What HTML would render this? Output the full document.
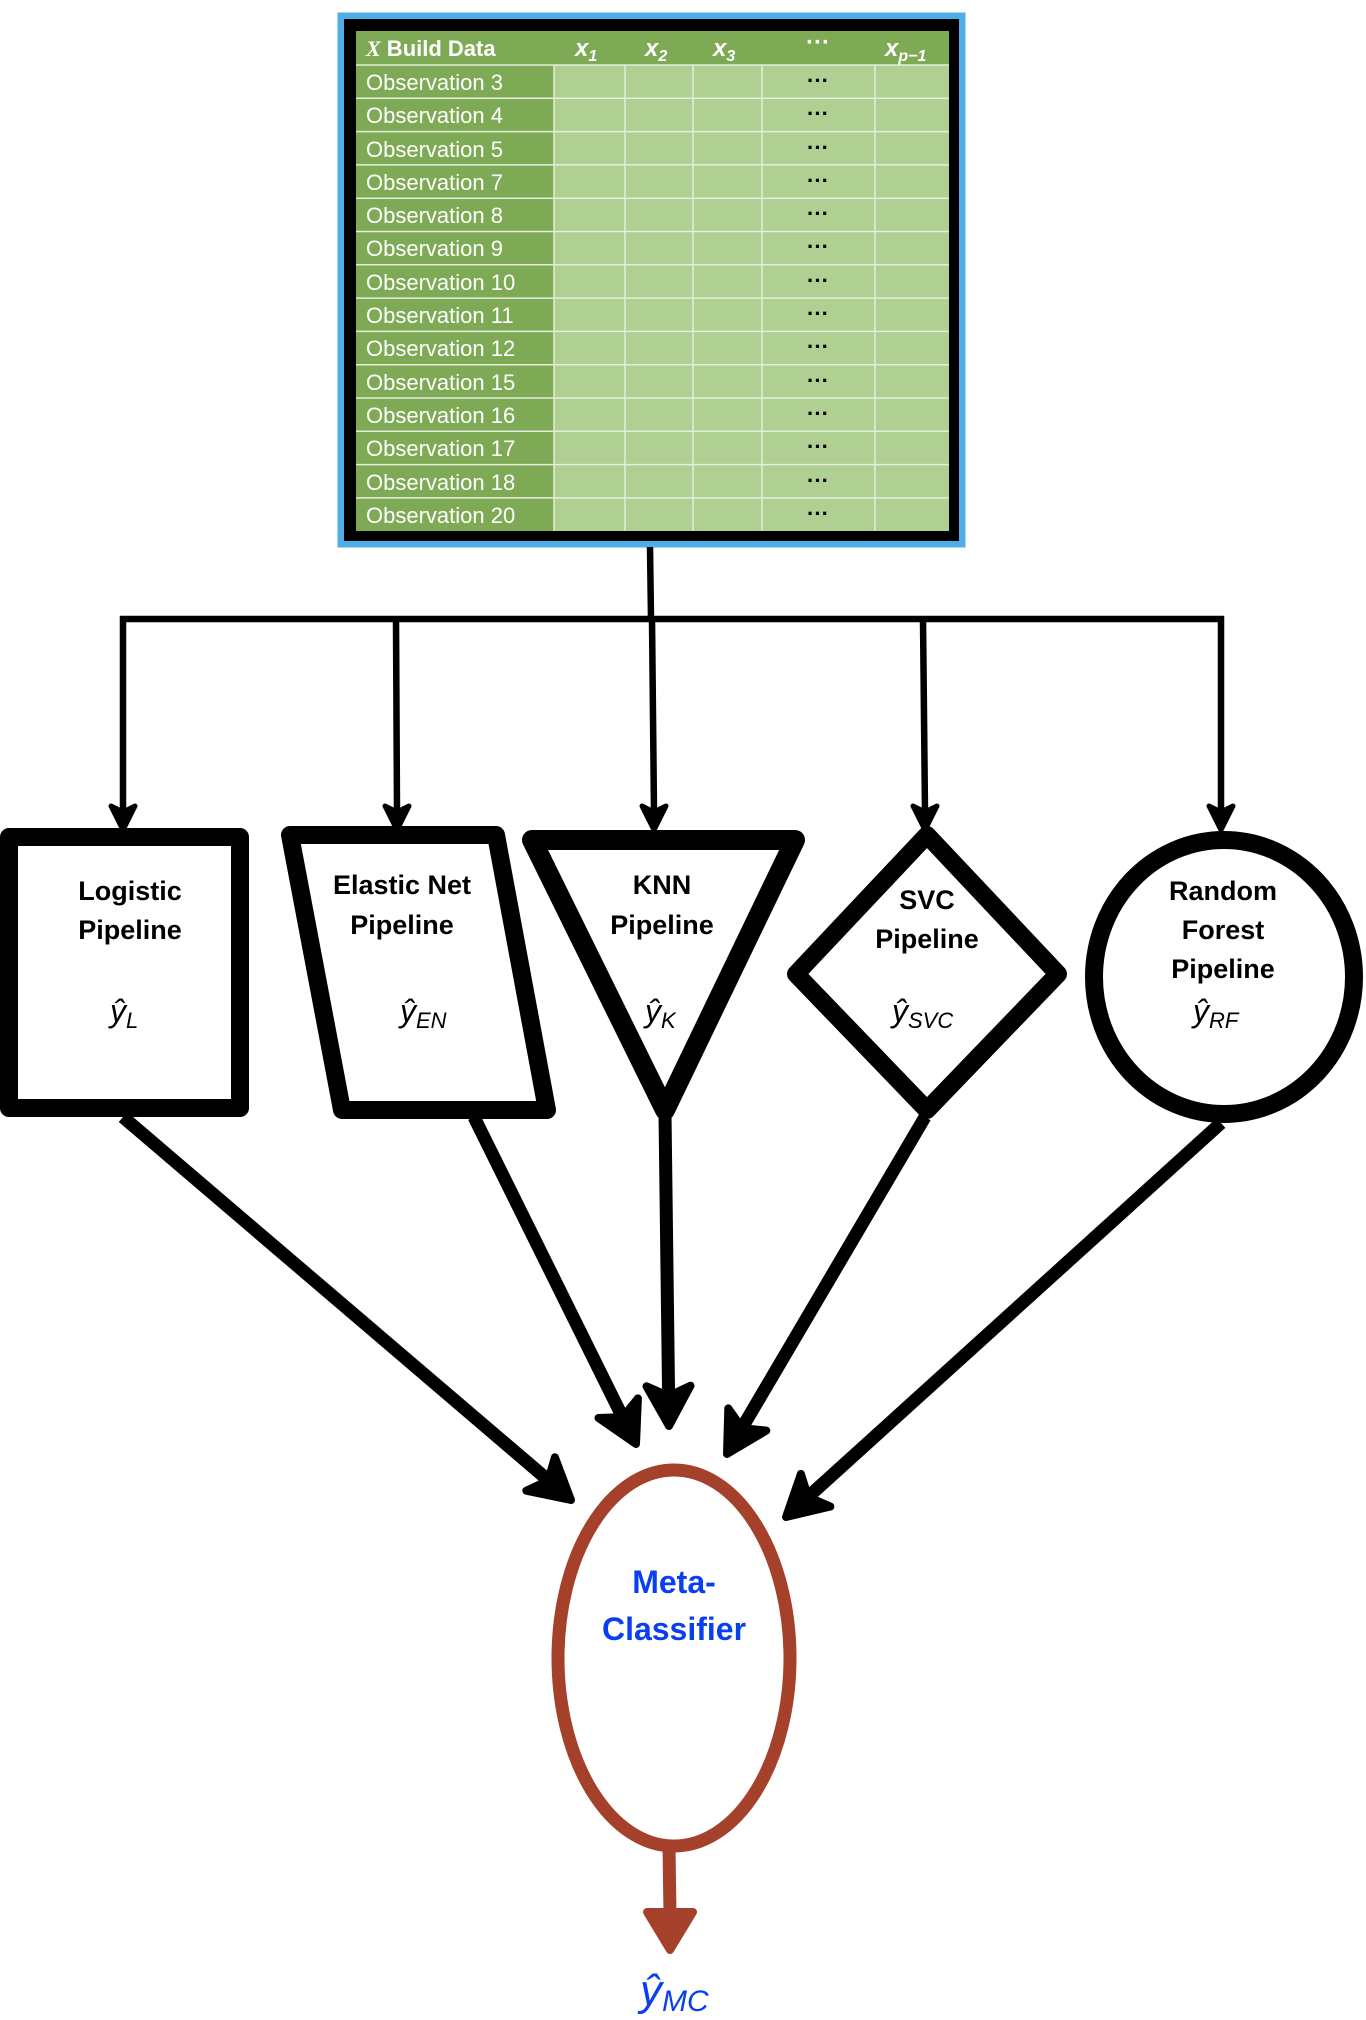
<!DOCTYPE html>
<html><head><meta charset="utf-8"><style>
html,body{margin:0;padding:0;background:#fff;}
svg{display:block;}
text{font-family:"Liberation Sans",sans-serif;}
</style></head><body>
<svg width="1366" height="2020" viewBox="0 0 1366 2020" xmlns="http://www.w3.org/2000/svg">

<!-- table frame -->
<rect x="341" y="16" width="621" height="528" fill="none" stroke="#4daee8" stroke-width="7"/>
<rect x="344" y="19" width="615" height="522" fill="#000"/>
<rect x="356" y="31" width="593" height="500" fill="#b0cf92"/>
<rect x="356" y="31" width="593" height="34" fill="#7eaa55"/>
<rect x="356" y="65" width="198" height="466" fill="#7eaa55"/>
<g stroke="#e4eedb" stroke-width="1.5">
<line x1="356" y1="65" x2="949" y2="65"/>
<line x1="356" y1="98.3" x2="949" y2="98.3"/>
<line x1="356" y1="131.6" x2="949" y2="131.6"/>
<line x1="356" y1="164.9" x2="949" y2="164.9"/>
<line x1="356" y1="198.2" x2="949" y2="198.2"/>
<line x1="356" y1="231.5" x2="949" y2="231.5"/>
<line x1="356" y1="264.8" x2="949" y2="264.8"/>
<line x1="356" y1="298.1" x2="949" y2="298.1"/>
<line x1="356" y1="331.4" x2="949" y2="331.4"/>
<line x1="356" y1="364.7" x2="949" y2="364.7"/>
<line x1="356" y1="398" x2="949" y2="398"/>
<line x1="356" y1="431.3" x2="949" y2="431.3"/>
<line x1="356" y1="464.6" x2="949" y2="464.6"/>
<line x1="356" y1="497.9" x2="949" y2="497.9"/>
<line x1="554" y1="65" x2="554" y2="531"/>
<line x1="625" y1="65" x2="625" y2="531"/>
<line x1="693" y1="65" x2="693" y2="531"/>
<line x1="762" y1="65" x2="762" y2="531"/>
<line x1="875" y1="65" x2="875" y2="531"/>
</g>
<g fill="#fff" font-size="22">
<text x="366" y="56" font-weight="bold"><tspan font-family="Liberation Serif" font-style="italic">X</tspan> Build Data</text>
<g font-family="Liberation Serif" font-style="italic" font-weight="bold" font-size="24">
<text x="575" y="56">x<tspan font-size="16" dy="5">1</tspan></text>
<text x="645" y="56">x<tspan font-size="16" dy="5">2</tspan></text>
<text x="713" y="56">x<tspan font-size="16" dy="5">3</tspan></text>
<text x="806" y="50" font-style="normal">···</text>
<text x="885" y="56">x<tspan font-size="16" dy="5">p−1</tspan></text>
</g>
<text x="366" y="90">Observation 3</text>
<text x="366" y="123">Observation 4</text>
<text x="366" y="157">Observation 5</text>
<text x="366" y="190">Observation 7</text>
<text x="366" y="223">Observation 8</text>
<text x="366" y="256">Observation 9</text>
<text x="366" y="290">Observation 10</text>
<text x="366" y="323">Observation 11</text>
<text x="366" y="356">Observation 12</text>
<text x="366" y="390">Observation 15</text>
<text x="366" y="423">Observation 16</text>
<text x="366" y="456">Observation 17</text>
<text x="366" y="490">Observation 18</text>
<text x="366" y="523">Observation 20</text>
</g>
<g fill="#000" font-size="22" font-weight="bold" text-anchor="middle">
<text x="818" y="88">···</text><text x="818" y="121">···</text><text x="818" y="155">···</text>
<text x="818" y="188">···</text><text x="818" y="221">···</text><text x="818" y="254">···</text>
<text x="818" y="288">···</text><text x="818" y="321">···</text><text x="818" y="354">···</text>
<text x="818" y="388">···</text><text x="818" y="421">···</text><text x="818" y="454">···</text>
<text x="818" y="488">···</text><text x="818" y="521">···</text>
</g>

<!-- distribution connectors -->
<g stroke="#000" stroke-width="6.5" fill="none">
<line x1="650" y1="547" x2="651" y2="619"/>
<polyline points="123,812 123,619 1221,619 1221,812"/>
<line x1="396" y1="619" x2="397" y2="812"/>
<line x1="652" y1="619" x2="654" y2="812"/>
<line x1="923" y1="619" x2="925" y2="812"/>
</g>
<g fill="#000" stroke="#000" stroke-width="5" stroke-linejoin="round">
<polygon points="123,830 111,806 123,812 135,806"/>
<polygon points="397,830 385,806 397,812 409,806"/>
<polygon points="654,830 642,806 654,812 666,806"/>
<polygon points="925,830 913,806 925,812 937,806"/>
<polygon points="1221,830 1209,806 1221,812 1233,806"/>
</g>

<!-- shapes -->
<g stroke="#000" stroke-width="18" fill="#fff" stroke-linejoin="round">
<rect x="9" y="837" width="231" height="271"/>
<polygon points="290,835 496,835 547,1110 342,1110"/>
<polygon points="532,840 795,840 665,1110" stroke-width="20"/>
<polygon points="927,835 1058,974 927,1110 796,974"/>
<ellipse cx="1224" cy="977" rx="130" ry="137"/>
</g>
<g font-size="27" font-weight="bold" text-anchor="middle" fill="#000">
<text x="130" y="900">Logistic</text><text x="130" y="939">Pipeline</text>
<text x="402" y="894">Elastic Net</text><text x="402" y="934">Pipeline</text>
<text x="662" y="894">KNN</text><text x="662" y="934">Pipeline</text>
<text x="927" y="909">SVC</text><text x="927" y="948">Pipeline</text>
<text x="1223" y="900">Random</text><text x="1223" y="939">Forest</text><text x="1223" y="978">Pipeline</text>
</g>
<g font-family="Liberation Serif" font-style="italic" font-size="32" fill="#000">
<text x="110" y="1022">ŷ<tspan font-size="22" dy="6">L</tspan></text>
<text x="400" y="1022">ŷ<tspan font-size="22" dy="6">EN</tspan></text>
<text x="645" y="1022">ŷ<tspan font-size="22" dy="6">K</tspan></text>
<text x="892" y="1022">ŷ<tspan font-size="22" dy="6">SVC</tspan></text>
<text x="1193" y="1022">ŷ<tspan font-size="22" dy="6">RF</tspan></text>
</g>

<!-- arrows to meta -->
<g stroke="#000" stroke-width="13" fill="none">
<line x1="123" y1="1117" x2="548" y2="1480"/>
<line x1="474" y1="1117" x2="622" y2="1416"/>
<line x1="665" y1="1114" x2="668.6" y2="1396"/>
<line x1="925" y1="1117" x2="742" y2="1428"/>
<line x1="1221" y1="1123" x2="808" y2="1497"/>
</g>
<g fill="#000" stroke="#000" stroke-width="8" stroke-linejoin="round">
<polygon points="571,1500 526.3,1490.7 548.2,1480.5 554.9,1457.3"/>
<polygon points="636,1444 598.5,1418 622.7,1417.1 637.9,1398.4"/>
<polygon points="669,1426 646.5,1386.3 668.6,1396 690.5,1385.7"/>
<polygon points="727,1454 728.3,1408.4 742.2,1428.1 766.3,1430.6"/>
<polygon points="786,1517 800.9,1473.9 808.2,1496.9 830.4,1506.5"/>
</g>

<!-- meta classifier -->
<ellipse cx="674" cy="1658" rx="116" ry="188" fill="#fff" stroke="#a5402a" stroke-width="13"/>
<g font-size="32" font-weight="bold" text-anchor="middle" fill="#0a3ff0">
<text x="674" y="1593">Meta-</text>
<text x="674" y="1640">Classifier</text>
</g>
<line x1="669" y1="1846" x2="670" y2="1915" stroke="#a5402a" stroke-width="13"/>
<polygon points="670,1950 647,1912 693,1912" fill="#a5402a" stroke="#a5402a" stroke-width="8" stroke-linejoin="round"/>
<text x="640" y="2005" font-family="Liberation Serif" font-style="italic" font-size="44" fill="#0a3ff0">ŷ<tspan font-size="30" dy="6">MC</tspan></text>
</svg>
</body></html>
